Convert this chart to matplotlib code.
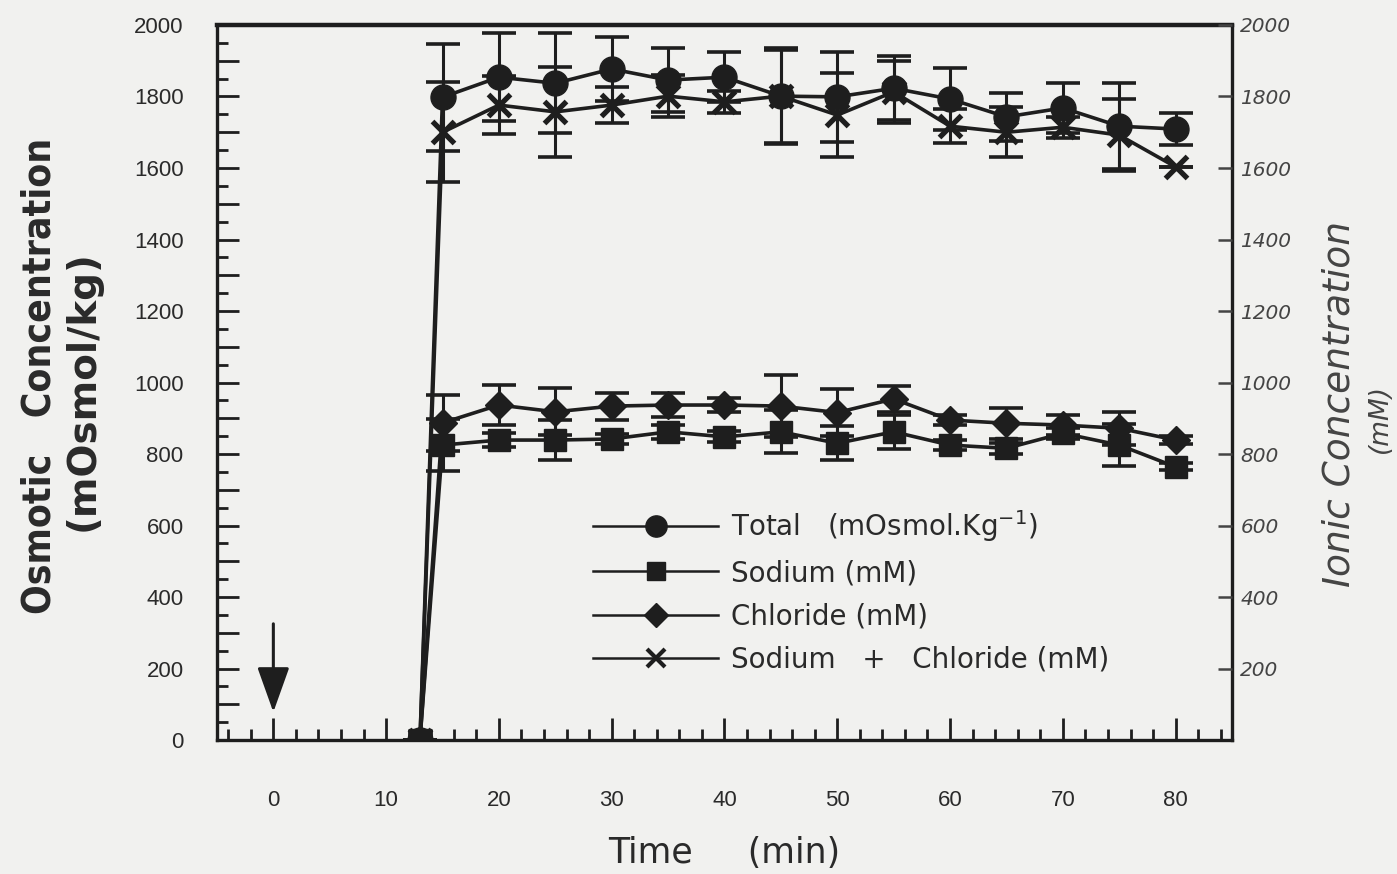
import numpy as np
import matplotlib.pyplot as plt
from matplotlib.ticker import MultipleLocator, FuncFormatter
from matplotlib.lines import Line2D

# sampling times (min); dose given at t = 0, first sample at 13 min
time = [13, 15, 20, 25, 30, 35, 40, 45, 50, 55, 60, 65, 70, 75, 80]

total = [0, 1798, 1854, 1837, 1877, 1846, 1854, 1801, 1799, 1823, 1793, 1743, 1768, 1717, 1709]
total_err = [0, 150, 123, 140, 90, 90, 70, 130, 125, 90, 87, 67, 70, 120, 45]

sodium = [0, 825, 839, 839, 842, 862, 848, 862, 830, 862, 825, 816, 858, 825, 764]
sodium_err = [0, 73, 20, 56, 15, 20, 15, 60, 47, 48, 15, 15, 15, 59, 10]

chloride = [0, 887, 937, 918, 934, 937, 937, 934, 916, 954, 895, 886, 881, 872, 839]
chloride_err = [0, 78, 56, 66, 38, 34, 20, 87, 66, 36, 15, 43, 28, 46, 10]

na_cl = [0, 1700, 1776, 1757, 1776, 1801, 1785, 1801, 1748, 1813, 1717, 1700, 1714, 1692, 1603]
na_cl_err = [0, 140, 80, 125, 50, 58, 30, 135, 118, 87, 47, 70, 30, 100, 0]

x_ticks = [0, 10, 20, 30, 40, 50, 60, 70, 80]
right_ticks = [200, 400, 600, 800, 1000, 1200, 1400, 1600, 1800, 2000]

BG = "#f1f1ef"
INK = "#1e1e1e"
TXT = "#2a2a2a"
PEN = "#444444"

plt.rcParams["font.family"] = ["Liberation Sans", "DejaVu Sans"]

fig = plt.figure(figsize=(13.97, 8.74), dpi=100, facecolor=BG)
ax = fig.add_axes([0.1553, 0.1533, 0.7266, 0.8181], facecolor=BG)

series = [
    (total, total_err, "o", 18, "Total   (mOsmol.Kg$^{-1}$)"),
    (sodium, sodium_err, "s", 16, "Sodium (mM)"),
    (chloride, chloride_err, "D", 14, "Chloride (mM)"),
    (na_cl, na_cl_err, "x", 16, "Sodium   +   Chloride (mM)"),
]

handles = []
for vals, err, mk, ms, label in series:
    ax.errorbar(time, vals, yerr=err, fmt="none", ecolor=INK,
                elinewidth=2.2, capsize=12, capthick=2.6, zorder=2)
    ax.plot(time, vals, color=INK, lw=2.6, marker=mk, ms=ms,
            mfc=INK, mec=INK, mew=3.8 if mk == "x" else 1, zorder=3)
    handles.append(Line2D([], [], color=INK, lw=1.8, marker=mk,
                          ms=ms * 0.85, mfc=INK, mec=INK,
                          mew=3 if mk == "x" else 1, label=label))

# arrow marking the time of injection
ax.annotate("", xy=(0, 78), xytext=(0, 325),
            arrowprops=dict(arrowstyle="-|>,head_length=2.8,head_width=1.0",
                            color=INK, lw=2.2, shrinkA=0, shrinkB=0))

ax.set_xlim(-5, 85)
ax.set_ylim(0, 2000)

ax.xaxis.set_minor_locator(MultipleLocator(2))
ax.set_xticks(x_ticks)
ax.yaxis.set_major_locator(MultipleLocator(100))
ax.yaxis.set_minor_locator(MultipleLocator(50))
ax.yaxis.set_major_formatter(FuncFormatter(lambda v, p: f"{int(v)}" if int(v) % 200 == 0 else ""))

ax.tick_params(axis="both", which="major", direction="in", length=16, width=2,
               color=INK, labelsize=16, labelcolor=TXT)
ax.tick_params(axis="both", which="minor", direction="in", length=8, width=2, color=INK)
ax.tick_params(axis="x", which="major", pad=36)
ax.tick_params(axis="y", which="major", pad=24)

for side in ["left", "bottom", "right"]:
    ax.spines[side].set_linewidth(2.4)
    ax.spines[side].set_color(INK)
ax.spines["top"].set_linewidth(3.2)
ax.spines["top"].set_color(INK)

# right-hand ionic scale shares the same range
ax2 = ax.twinx()
ax2.set_ylim(0, 2000)
ax2.set_yticks(right_ticks)
ax2.tick_params(axis="y", direction="in", length=10, width=1.8, color=PEN,
                labelsize=14.5, labelcolor=PEN, pad=6)
for lab in ax2.get_yticklabels():
    lab.set_fontstyle("italic")
    lab.set_family(["DejaVu Sans"])
for s in ax2.spines.values():
    s.set_visible(False)

ax2.text(1.106, 0.47, "Ionic Concentration", transform=ax.transAxes, rotation=90,
         ha="center", va="center", fontsize=27, color=PEN, fontstyle="italic",
         family=["DejaVu Sans"])
ax2.text(1.146, 0.45, "(mM)", transform=ax.transAxes, rotation=90,
         ha="center", va="center", fontsize=19, color=PEN, fontstyle="italic",
         family=["DejaVu Sans"])

fig.text(0.028, 0.57, "Osmotic   Concentration", rotation=90, ha="center", va="center",
         fontsize=28, fontweight="bold", fontstretch="condensed", color=TXT,
         family=["DejaVu Sans"])
fig.text(0.059, 0.553, "(mOsmol/kg)", rotation=90, ha="center", va="center",
         fontsize=28, fontweight="bold", color=TXT,
         family=["DejaVu Sans"])

ax.set_xlabel("Time     (min)", fontsize=25, color=TXT, labelpad=18,
              family=["DejaVu Sans"])

leg = ax.legend(handles=handles, loc="upper left", bbox_to_anchor=(0.36, 0.34),
                frameon=False, handlelength=4.5, handletextpad=0.45,
                labelspacing=0.55, borderaxespad=0,
                prop={"family": ["DejaVu Sans"], "size": 20})
for t in leg.get_texts():
    t.set_color(TXT)

fig.savefig("out.png", dpi=100, facecolor=BG)
